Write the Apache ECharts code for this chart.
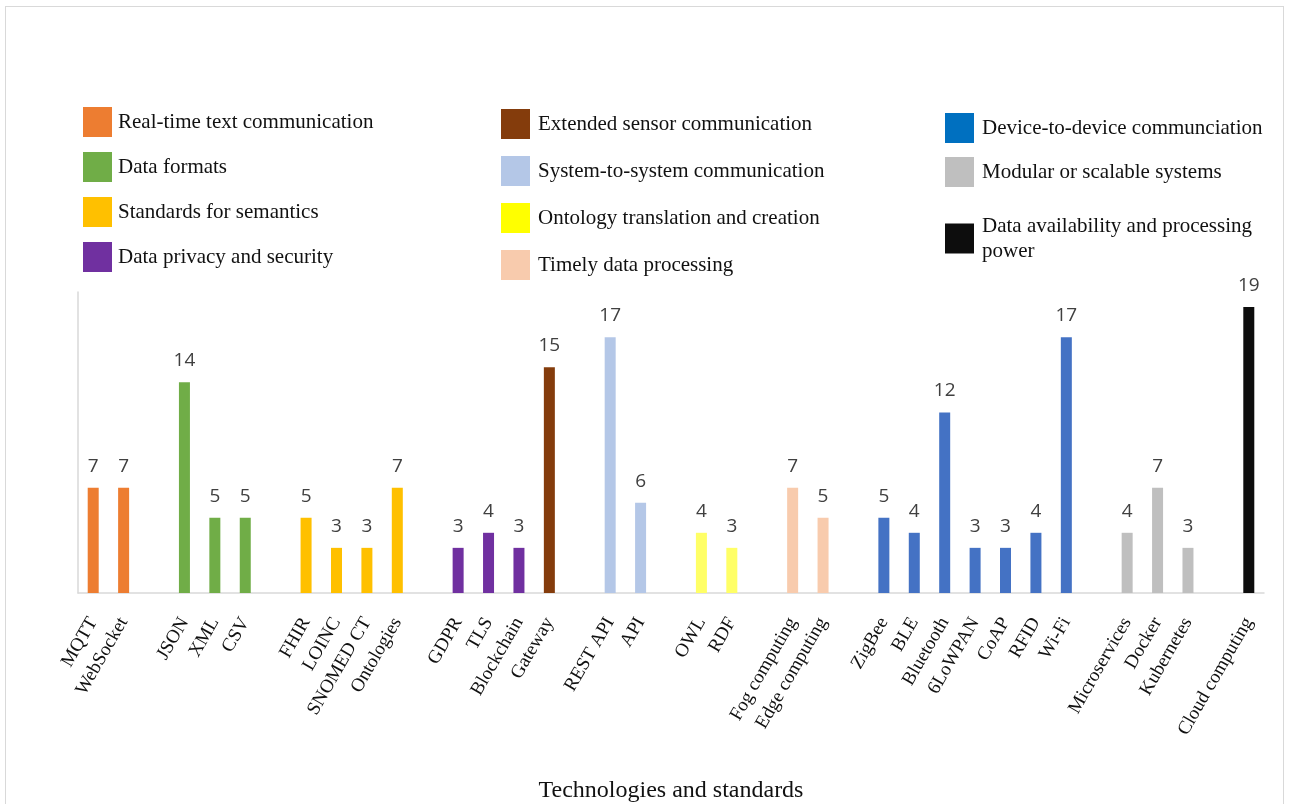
<!DOCTYPE html>
<html>
<head>
<meta charset="utf-8">
<script src="https://cdn.jsdelivr.net/npm/echarts@6/dist/echarts.min.js"></script>
<style>
  html, body { margin: 0; padding: 0; background: #fff; }
  #chart { width: 1289px; height: 804px; }
  #frame { position: absolute; left: 5px; top: 6px; width: 1277px; height: 820px; border: 1px solid #d9d9d9; pointer-events: none; }
</style>
</head>
<body>
<div id="frame"></div>
<div id="chart"></div>
<script>
// null = empty slot between groups
const technologies = ['MQTT', 'WebSocket', null, 'JSON', 'XML', 'CSV', null,
  'FHIR', 'LOINC', 'SNOMED CT', 'Ontologies', null,
  'GDPR', 'TLS', 'Blockchain', 'Gateway', null,
  'REST API', 'API', null, 'OWL', 'RDF', null,
  'Fog computing', 'Edge computing', null,
  'ZigBee', 'BLE', 'Bluetooth', '6LoWPAN', 'CoAP', 'RFID', 'Wi-Fi', null,
  'Microservices', 'Docker', 'Kubernetes', null, 'Cloud computing'];
const counts = [7, 7, null, 14, 5, 5, null,
  5, 3, 3, 7, null,
  3, 4, 3, 15, null,
  17, 6, null, 4, 3, null,
  7, 5, null,
  5, 4, 12, 3, 3, 4, 17, null,
  4, 7, 3, null, 19];
const groupOf = [0, 0, null, 1, 1, 1, null,
  2, 2, 2, 2, null,
  3, 3, 3, 4, null,
  5, 5, null, 6, 6, null,
  7, 7, null,
  8, 8, 8, 8, 8, 8, 8, null,
  9, 9, 9, null, 10];
const groupNames = ['Real-time text communication', 'Data formats', 'Standards for semantics',
  'Data privacy and security', 'Extended sensor communication', 'System-to-system communication',
  'Ontology translation and creation', 'Timely data processing', 'Device-to-device communciation',
  'Modular or scalable systems', 'Data availability and processing power'];
const barColors = ['#ED7D31', '#70AD47', '#FFC000', '#7030A0', '#843C0C', '#B4C7E7',
  '#FFFF66', '#F8CBAD', '#4472C4', '#BFBFBF', '#0D0D0D'];
const legendColors = ['#ED7D31', '#70AD47', '#FFC000', '#7030A0', '#843C0C', '#B4C7E7',
  '#FFFF00', '#F8CBAD', '#0070C0', '#BFBFBF', '#0D0D0D'];

const axisData = technologies.map((t, i) => t === null ? 'gap' + i : t);

const series = groupNames.map((name, g) => ({
  name: name,
  type: 'bar',
  stack: 'all',
  barWidth: 11,
  itemStyle: { color: barColors[g] },
  label: {
    show: true,
    position: 'top',
    distance: 12,
    fontFamily: 'Open Sans',
    fontSize: 19,
    color: '#404040'
  },
  data: counts.map((v, i) => groupOf[i] === g ? v : '-')
}));

const serif = 'Liberation Serif';
function legendCol(idx, left, top, gap, gapText) {
  return {
    orient: 'vertical',
    left: left,
    top: top,
    padding: 0,
    itemWidth: 29,
    itemHeight: 30,
    itemGap: gap,
    selectedMode: false,
    icon: 'rect',
    textStyle: { fontFamily: serif, fontSize: 21, color: '#111', lineHeight: 25, padding: [0, 0, 0, gapText] },
    data: idx.map(g => {
      const item = { name: groupNames[g], itemStyle: { color: legendColors[g] } };
      if (g === 10) item.textStyle = { padding: [25, 0, 0, gapText] };
      return item;
    }),
    formatter: n => n === groupNames[10] ? 'Data availability and processing\npower' : n
  };
}

const chart = echarts.init(document.getElementById('chart'));
chart.setOption({
  animation: false,
  legend: [
    legendCol([0, 1, 2, 3], 83, 107, 15, 1),
    legendCol([4, 5, 6, 7], 501, 109, 17, 3),
    legendCol([8, 9, 10], 945, 113, 14, 3)
  ],
  grid: { left: 78, right: 25, top: 292, bottom: 206 },
  xAxis: {
    type: 'category',
    data: axisData,
    name: 'Technologies and standards',
    nameLocation: 'middle',
    nameGap: 186,
    nameTextStyle: { fontFamily: serif, fontSize: 24, color: '#111' },
    axisLine: { lineStyle: { color: '#d9d9d9', width: 1.5 } },
    axisTick: { show: false },
    axisLabel: {
      interval: 0,
      rotate: 60,
      margin: 26,
      fontFamily: serif,
      fontSize: 19,
      color: '#111',
      formatter: v => v.indexOf('gap') === 0 ? '' : v
    }
  },
  yAxis: {
    type: 'value',
    min: 0,
    max: 20,
    axisLine: { show: true, lineStyle: { color: '#d9d9d9', width: 1.5 } },
    axisTick: { show: false },
    axisLabel: { show: false },
    splitLine: { show: false }
  },
  series: series
});
</script>
</body>
</html>
